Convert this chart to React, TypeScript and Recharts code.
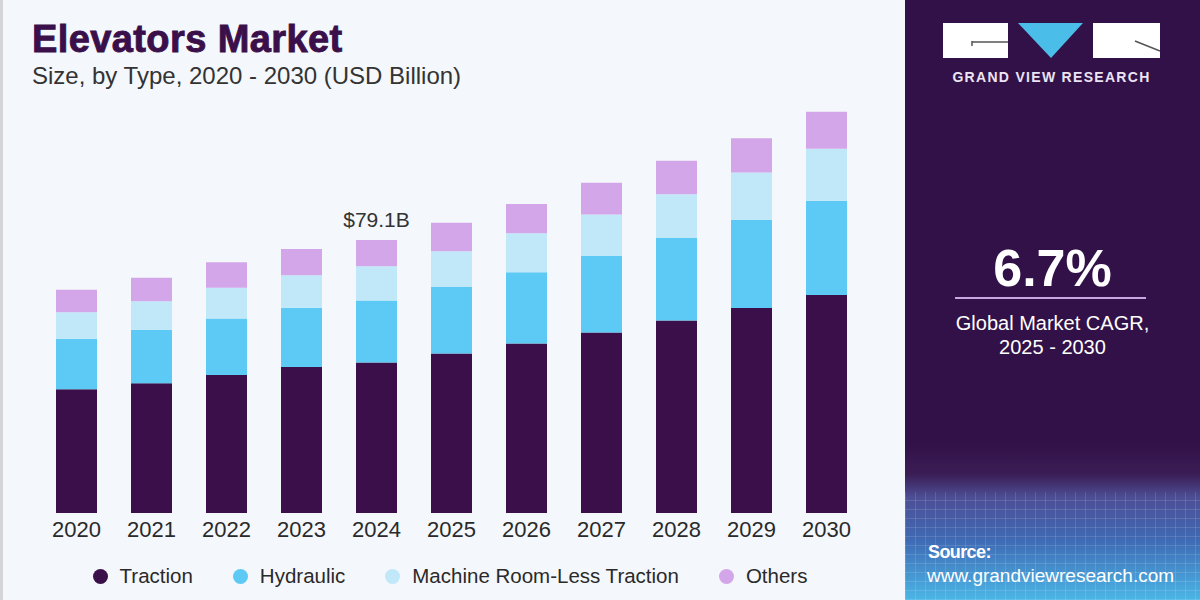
import { BarChart, Bar, XAxis, YAxis, LabelList } from "recharts"

const years = ["2020", "2021", "2022", "2023", "2024", "2025", "2026", "2027", "2028", "2029", "2030"]
const traction = [35.9, 37.6, 40.0, 42.3, 43.6, 46.2, 49.1, 52.3, 55.8, 59.4, 63.2]
const hydraulic = [14.6, 15.5, 16.4, 17.2, 18.0, 19.3, 20.7, 22.2, 23.9, 25.5, 27.3]
const machineRoomLess = [7.7, 8.3, 8.9, 9.4, 9.9, 10.4, 11.3, 12.0, 12.7, 13.8, 15.1]
const others = [6.5, 6.8, 7.4, 7.6, 7.6, 8.2, 8.5, 9.2, 9.7, 9.9, 10.7]
const callouts = ["", "", "", "", "$79.1B", "", "", "", "", "", ""]

const SERIES = [
  { key: "traction", name: "Traction", color: "#3a0f4a" },
  { key: "hydraulic", name: "Hydraulic", color: "#5ccaf4" },
  { key: "mrl", name: "Machine Room-Less Traction", color: "#c0e8f9" },
  { key: "others", name: "Others", color: "#d3a6e9" },
]

const data = years.map((year, i) => ({
  year,
  traction: traction[i],
  hydraulic: hydraulic[i],
  mrl: machineRoomLess[i],
  others: others[i],
  callout: callouts[i],
}))

const FONT = "'Liberation Sans', Arial, sans-serif"

const abs = (s: React.CSSProperties): React.CSSProperties => ({ position: "absolute", ...s })

function Panel() {
  return (
    <div
      style={abs({
        left: 905, top: 0, width: 295, height: 600,
        background: "linear-gradient(180deg, #321148 0%, #321148 74%, #3b1d55 79%, #4d4f96 83%, #3f6ab4 90%, #4bb6e6 100%)",
        overflow: "hidden",
      })}
    >
      <div
        style={abs({
          left: 0, top: 492, width: 295, height: 108,
          backgroundImage:
            "repeating-linear-gradient(0deg, rgba(255,255,255,0.12) 0 1px, transparent 1px 9px), repeating-linear-gradient(90deg, rgba(255,255,255,0.12) 0 1px, transparent 1px 10px)",
        })}
      />
      <svg width={295} height={70} style={abs({ left: 0, top: 0 })}>
        <rect x={38} y={23} width={65} height={35} fill="#ffffff" />
        <line x1={67} y1={42} x2={103} y2={42} stroke="#555" strokeWidth={1.5} />
        <line x1={67} y1={41} x2={67} y2={46} stroke="#555" strokeWidth={1.5} />
        <polygon points="113,23 178,23 146,58" fill="#4bbde9" />
        <rect x={188} y={23} width={67} height={35} fill="#ffffff" />
        <line x1={230} y1={41} x2={255} y2={51} stroke="#555" strokeWidth={1.5} />
      </svg>
      <div style={abs({ left: 38, top: 69, width: 217, textAlign: "center", color: "#ece4f4", fontFamily: FONT, fontWeight: 700, fontSize: 14, letterSpacing: 1.3 })}>
        GRAND VIEW RESEARCH
      </div>
      <div style={abs({ left: 0, top: 238, width: 295, textAlign: "center", color: "#fff", fontFamily: FONT, fontWeight: 700, fontSize: 52 })}>
        6.7%
      </div>
      <div style={abs({ left: 50, top: 297, width: 191, height: 2, background: "#c7a6e2" })} />
      <div style={abs({ left: 0, top: 311, width: 295, textAlign: "center", color: "#fff", fontFamily: FONT, fontSize: 20, lineHeight: "24px" })}>
        Global Market CAGR,
        <br />
        2025 - 2030
      </div>
      <div style={abs({ left: 23, top: 542, color: "#fff", fontFamily: FONT, fontWeight: 700, fontSize: 18, letterSpacing: -0.6 })}>
        Source:
      </div>
      <div style={abs({ left: 22, top: 565, color: "#fff", fontFamily: FONT, fontSize: 19 })}>
        www.grandviewresearch.com
      </div>
    </div>
  )
}

function LegendRow() {
  return (
    <div style={abs({ left: 0, top: 564, width: 900, display: "flex", justifyContent: "center", fontFamily: FONT, fontSize: 20.5, color: "#2a2a2a" })}>
      {SERIES.map((s, i) => (
        <div key={s.key} style={{ display: "flex", alignItems: "center", marginLeft: i === 0 ? 0 : 40 }}>
          <span style={{ width: 15, height: 15, borderRadius: "50%", background: s.color, marginRight: 12, display: "inline-block" }} />
          <span>{s.name}</span>
        </div>
      ))}
    </div>
  )
}

export default function App() {
  return (
    <div style={{ position: "fixed", left: 0, top: 0, width: 1200, height: 600, background: "#f4f7fb", overflow: "hidden" }}>
      <div style={abs({ left: 0, top: 0, width: 3, height: 600, background: "#d3d5d9" })} />
      <div style={abs({ left: 32, top: 18, fontFamily: FONT, fontWeight: 900, fontSize: 38, color: "#3a0f4a", WebkitTextStroke: "0.9px #3a0f4a", letterSpacing: 0.4 })}>
        Elevators Market
      </div>
      <div style={abs({ left: 32, top: 62, fontFamily: FONT, fontSize: 24, color: "#333" })}>
        Size, by Type, 2020 - 2030 (USD Billion)
      </div>

      <div style={abs({ left: 0, top: 0 })}>
        <BarChart width={900} height={600} data={data} margin={{ top: 99, right: 36, bottom: 57, left: 39 }} barSize={41}>
          <XAxis
            dataKey="year"
            height={30}
            axisLine={false}
            tickLine={false}
            tick={{ fontSize: 22, fill: "#2a2a2a", fontFamily: FONT }}
          />
          <YAxis hide domain={[0, 120]} />
          {SERIES.map((s) => (
            <Bar key={s.key} dataKey={s.key} name={s.name} stackId="a" fill={s.color} isAnimationActive={false}>
              {s.key === "others" && (
                <LabelList dataKey="callout" position="top" offset={13} style={{ fontSize: 21, fill: "#333", fontFamily: FONT }} />
              )}
            </Bar>
          ))}
        </BarChart>
      </div>

      <LegendRow />
      <Panel />
    </div>
  )
}
